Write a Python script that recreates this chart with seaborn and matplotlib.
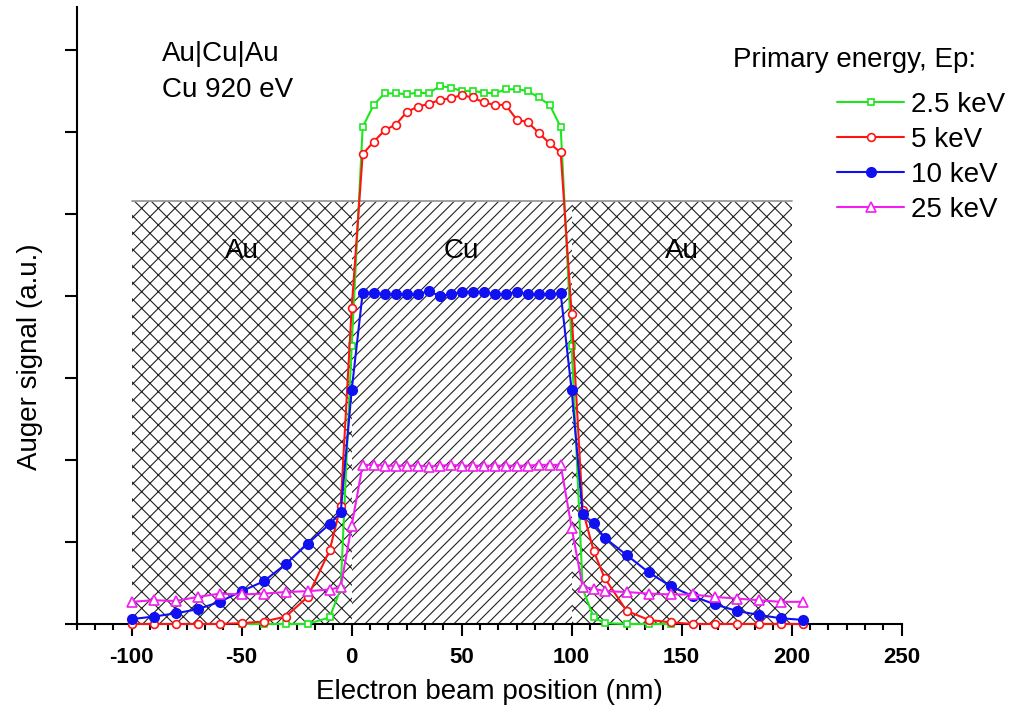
import matplotlib
matplotlib.use("Agg")
import matplotlib.pyplot as plt
from matplotlib.ticker import MultipleLocator, AutoMinorLocator, NullFormatter
import seaborn as sns

# beam positions (nm) where the signal was sampled
positions = [-100, -90, -80, -70, -60, -50, -40, -30, -20, -10, -5, 0,
             5, 10, 15, 20, 25, 30, 35, 40, 45, 50, 55, 60, 65, 70, 75, 80, 85, 90, 95,
             100, 105, 110, 115, 125, 135, 145, 155, 165, 175, 185, 195, 205]
positions_low = [-50, -40, -30, -20, -10, -5, 0,
                 5, 10, 15, 20, 25, 30, 35, 40, 45, 50, 55, 60, 65, 70, 75, 80, 85, 90, 95,
                 100, 105, 110, 115, 125, 135, 145]

# Auger signal (a.u.) for each primary energy
sig_2p5kev = [0, 0, 0, 0, 0.08, 0.43, 3.39,
              6.06, 6.33, 6.47, 6.47, 6.46, 6.48, 6.47, 6.56, 6.54, 6.50,
              6.50, 6.48, 6.47, 6.52, 6.52, 6.50, 6.42, 6.33, 6.06,
              3.39, 0.43, 0.08, 0.01, 0, 0, 0]
sig_5kev = [0, 0, 0, 0, 0, 0.01, 0.03, 0.09, 0.33, 0.90, 1.44, 3.85,
            5.73, 5.88, 6.02, 6.09, 6.24, 6.31, 6.34, 6.39, 6.41, 6.45,
            6.42, 6.36, 6.33, 6.33, 6.15, 6.12, 5.99, 5.86, 5.75,
            3.78, 1.39, 0.89, 0.56, 0.16, 0.05, 0.02, 0, 0, 0, 0, 0, 0]
sig_10kev = [0.06, 0.09, 0.13, 0.18, 0.27, 0.40, 0.52, 0.73, 0.98, 1.22, 1.36, 2.85,
             4.04, 4.04, 4.02, 4.02, 4.02, 4.02, 4.06, 4.00, 4.02, 4.05,
             4.05, 4.05, 4.02, 4.02, 4.05, 4.02, 4.02, 4.02, 4.03,
             2.85, 1.34, 1.23, 1.05, 0.84, 0.63, 0.46, 0.34, 0.24, 0.16, 0.11, 0.07, 0.05]
sig_25kev = [0.27, 0.29, 0.28, 0.33, 0.37, 0.36, 0.37, 0.39, 0.40, 0.42, 0.45, 1.20,
             1.94, 1.94, 1.93, 1.93, 1.93, 1.93, 1.92, 1.93, 1.94, 1.93,
             1.93, 1.93, 1.93, 1.93, 1.93, 1.93, 1.94, 1.94, 1.94,
             1.17, 0.45, 0.43, 0.40, 0.39, 0.37, 0.36, 0.36, 0.33, 0.31, 0.29, 0.27, 0.27]

energies = ["2.5 keV", "5 keV", "10 keV", "25 keV"]

# sample layers
region_labels = ["Au", "Cu", "Au"]
region_bounds = [-100, 0, 100, 200]
region_top = 5.16

x_ticks = [-100, -50, 0, 50, 100, 150, 200, 250]

sns.set_style("ticks")
plt.rcParams["font.family"] = ["Liberation Sans", "DejaVu Sans"]
plt.rcParams["axes.unicode_minus"] = False
plt.rcParams["hatch.linewidth"] = 0.8
plt.rcParams["hatch.color"] = "#222222"
for key in ["text.color", "axes.labelcolor", "axes.edgecolor", "xtick.color", "ytick.color"]:
    plt.rcParams[key] = "black"

series = [
    (positions_low, sig_2p5kev, dict(color="#1ee61e", marker="s", markersize=5.0, markerfacecolor="white")),
    (positions, sig_5kev, dict(color="#ff1414", marker="o", markersize=5.6, markerfacecolor="white")),
    (positions, sig_10kev, dict(color="#1010f0", marker="o", markersize=6.8, markerfacecolor="#1010f0")),
    (positions, sig_25kev, dict(color="#f01ef0", marker="^", markersize=7.0, markerfacecolor="white")),
]

fig, ax = plt.subplots(figsize=(10.17, 7.15), dpi=100)
fig.subplots_adjust(left=0.0754, right=0.8866, bottom=0.1273, top=0.9898)

# hatched layer background
hatches = ["xx", "///", "xx"]
for i, name in enumerate(region_labels):
    left, right = region_bounds[i], region_bounds[i + 1]
    ax.fill_between([left, right], 0, region_top, facecolor="white",
                    edgecolor="#222222", hatch=hatches[i], linewidth=0, zorder=0.5)
    ax.text((left + right) / 2, region_top - 0.7, name, fontsize=20,
            ha="center", va="baseline", zorder=1)
ax.plot([region_bounds[0], region_bounds[-1]], [region_top, region_top],
        color="#9a9a9a", lw=1.3, zorder=1)

for (xs, ys, st), label in zip(series, energies):
    sns.lineplot(x=xs, y=ys, ax=ax, label=label, linewidth=1.5,
                 markeredgecolor=st["color"], markeredgewidth=1.2,
                 errorbar=None, zorder=3, clip_on=False, **st)

ax.set_xlim(-125, 250)
ax.set_ylim(0, 7.52)
ax.set_xticks(x_ticks)
ax.xaxis.set_minor_locator(AutoMinorLocator(6))
ax.yaxis.set_major_locator(MultipleLocator(1))
ax.yaxis.set_major_formatter(NullFormatter())
sns.despine(ax=ax)
for side in ["left", "bottom"]:
    ax.spines[side].set_linewidth(1.5)
ax.tick_params(axis="x", which="major", direction="out", length=8.4, width=1.5,
               labelsize=16, pad=8)
ax.tick_params(axis="x", which="minor", direction="out", length=4.1, width=1.5)
ax.tick_params(axis="y", which="major", direction="out", length=9, width=1.5)
for lab in ax.get_xticklabels():
    lab.set_fontweight("bold")

ax.set_xlabel("Electron beam position (nm)", fontsize=20)
ax.set_ylabel("Auger signal (a.u.)", fontsize=20)
ax.xaxis.label.set_va("center")
ax.yaxis.label.set_va("center")
ax.xaxis.set_label_coords(0.5, -0.110)
ax.yaxis.set_label_coords(-0.0566, 0.433)

ax.text(-86.2, 6.866, "Au|Cu|Au", fontsize=20, va="baseline")
ax.text(-86.2, 6.43, "Cu 920 eV", fontsize=20, va="baseline")

fig.text(733 / 1017, 1 - 60 / 715, "Primary energy, Ep:", fontsize=20,
         ha="left", va="center")
handles, labels = ax.get_legend_handles_labels()
ax.legend(handles, labels, frameon=False, fontsize=20,
          handlelength=2.4, handletextpad=0.25, labelspacing=0.32,
          loc="upper right", bbox_to_anchor=(1005 / 1017, 1 - 92 / 715),
          bbox_transform=fig.transFigure, borderpad=0, borderaxespad=0)

fig.savefig("out.png", dpi=100)
